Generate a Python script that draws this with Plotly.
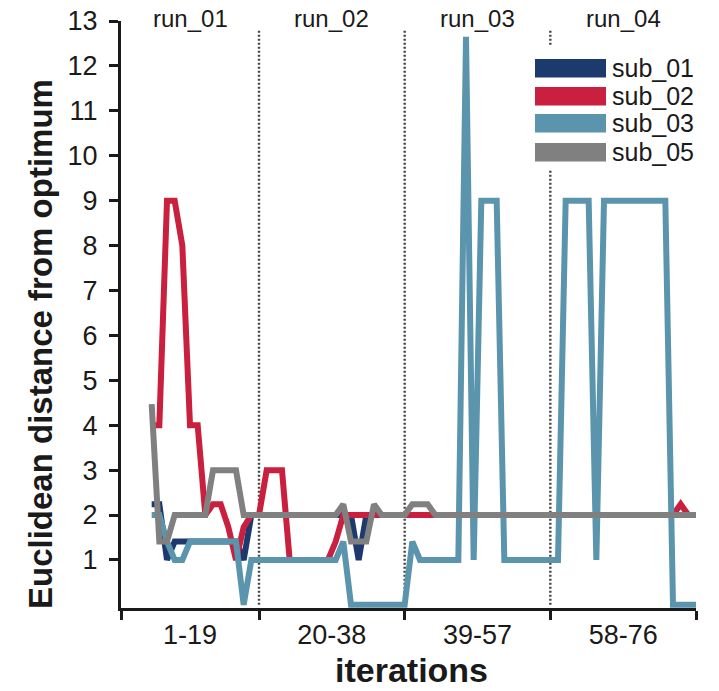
import plotly.graph_objects as go

N = None
iterations = list(range(1, 77))

sub_01 = [N, N, N, N, 2.24, 2.24, 1, 1.41, 1.41, 1.41,
          1.41, 1.41, 1.41, 1.41, 1.41, 1.41, 1, 2, 2, 2,
          2, 2, 2, 2, 2, 2, 2, 2, 2, 2,
          2, 1, 2, 2, 2, 2, 2, 2, 2, 2,
          2, 2, 2, 2, 2, 2, 2, 2, 2, 2,
          2, 2, 2, 2, 2, 2, 2, 2, 2, 2,
          2, 2, 2, 2, 2, 2, 2, 2, 2, 2,
          2, 2, 2, 2, 2, 2]

sub_02 = [N, N, N, N, 4, 4, 9, 9, 8, 4,
          4, 2, 2.24, 2.24, 1.73, 1, 1.73, 2, 2, 3,
          3, 3, 1, 1, 1, 1, 1, 1, 1.41, 2,
          2, 2, 2, 2, 2, 2, 2, 2, 2, 2,
          2, 2, 2, 2, 2, 2, 2, 2, 2, 2,
          2, 2, 2, 2, 2, 2, 2, 2, 2, 2,
          2, 2, 2, 2, 2, 2, 2, 2, 2, 2,
          2, 2, 2, 2.24, 2, 2]

sub_03 = [N, N, N, N, 2, 2, 1.41, 1, 1, 1.41,
          1.41, 1.41, 1.41, 1.41, 1.41, 1.41, 0, 1, 1, 1,
          1, 1, 1, 1, 1, 1, 1, 1, 1, 1.41,
          0, 0, 0, 0, 0, 0, 0, 0, 1.41, 1,
          1, 1, 1, 1, 1, 12.65, 1, 9, 9, 9,
          1, 1, 1, 1, 1, 1, 1, 1, 9, 9,
          9, 9, 1, 9, 9, 9, 9, 9, 9, 9,
          9, 9, 0, 0, 0, 0]

sub_05 = [N, N, N, N, 4.47, 1.41, 1.41, 2, 2, 2,
          2, 2, 3, 3, 3, 3, 2, 2, 2, 2,
          2, 2, 2, 2, 2, 2, 2, 2, 2, 2.24,
          1.41, 1.41, 1.41, 2.24, 2, 2, 2, 2, 2.24, 2.24,
          2.24, 2, 2, 2, 2, 2, 2, 2, 2, 2,
          2, 2, 2, 2, 2, 2, 2, 2, 2, 2,
          2, 2, 2, 2, 2, 2, 2, 2, 2, 2,
          2, 2, 2, 2, 2, 2]

series_names = ["sub_01", "sub_02", "sub_03", "sub_05"]
series_values = [sub_01, sub_02, sub_03, sub_05]
colors = ["#1C3A6E", "#C8203E", "#5B95AD", "#808080"]

run_labels = ["run_01", "run_02", "run_03", "run_04"]
run_edges = [1, 19, 38, 57, 76]
iter_labels = ["1-19", "20-38", "39-57", "58-76"]
y_ticks = list(range(1, 14))

FONT = "Liberation Sans, Arial, Helvetica, sans-serif"
INK = "#1a1a1a"

# figure geometry (page has an 8px body margin)
OFF = 8
W, H = 719 - OFF, 691 - OFF
L, T, R, B = 113, 13, 23, 83
pw, ph = W - L - R, H - T - B


def px2x(px):  # page pixel -> paper x
    return (px - OFF - L) / pw


def py2y(py):  # page pixel -> paper y
    return (H - B - (py - OFF)) / ph


fig = go.Figure()
for name, vals, col in zip(series_names, series_values, colors):
    fig.add_trace(go.Scatter(x=iterations, y=vals, mode="lines", name=name,
                             line=dict(color=col, width=6), showlegend=False,
                             connectgaps=False))

# dummy trace on overlay axis so the label axis is drawn
fig.add_trace(go.Scatter(x=[None], y=[None], xaxis="x2", yaxis="y",
                         showlegend=False, hoverinfo="skip"))

# run separators
for b in run_edges[1:-1]:
    fig.add_shape(type="line", xref="x", yref="y", x0=b, x1=b, y0=0, y1=12.8,
                  line=dict(color="#444444", width=2.4, dash="2px,2px"), layer="below")

centers = [(run_edges[k] + run_edges[k + 1]) / 2 for k in range(4)]

# run labels on top
for c, lab in zip(centers, run_labels):
    fig.add_annotation(x=c, xref="x", y=1, yref="paper", yanchor="middle", yshift=3,
                       text=lab, showarrow=False,
                       font=dict(family=FONT, size=24, color=INK))

# legend (drawn manually to mimic wide swatches)
fig.add_shape(type="rect", xref="paper", yref="paper", x0=px2x(528), x1=px2x(719),
              y0=py2y(170), y1=py2y(46), fillcolor="white", line=dict(width=0), layer="above")
leg_tops = [59, 87, 114, 143]
for top, name, col in zip(leg_tops, series_names, colors):
    fig.add_shape(type="rect", xref="paper", yref="paper", x0=px2x(535), x1=px2x(606),
                  y0=py2y(top + 18.5), y1=py2y(top), fillcolor=col, line=dict(width=0),
                  layer="above")
    fig.add_annotation(x=px2x(610), xref="paper", y=py2y(top + 9), yref="paper",
                       xanchor="left", yanchor="middle", text=name,
                       showarrow=False, font=dict(family=FONT, size=25, color=INK))

# axis titles
fig.add_annotation(x=px2x(40), xref="paper", y=py2y(344), yref="paper",
                   xanchor="center", yanchor="middle", textangle=-90,
                   text="<b>Euclidean distance from optimum</b>", showarrow=False,
                   font=dict(family=FONT, size=33, color=INK))
fig.add_annotation(x=px2x(411), xref="paper", y=py2y(670), yref="paper",
                   xanchor="center", yanchor="middle", height=30,
                   text="<b>iterations</b>", showarrow=False,
                   font=dict(family=FONT, size=34, color=INK))

fig.update_layout(
    width=W, height=H,
    margin=dict(l=L, r=R, t=T, b=B, autoexpand=False),
    paper_bgcolor="white", plot_bgcolor="white",
    font=dict(family=FONT, color=INK),
    xaxis=dict(range=[1, 76], tickvals=run_edges, ticktext=[""] * 5,
               ticks="outside", ticklen=9, tickwidth=3, tickcolor=INK,
               showline=True, linewidth=3, linecolor=INK, showgrid=False,
               zeroline=False, layer="below traces", fixedrange=True),
    xaxis2=dict(range=[1, 76], overlaying="x", side="bottom", anchor="y",
                tickvals=centers, ticktext=iter_labels, ticks="outside",
                ticklen=3, tickcolor="rgba(0,0,0,0)", showline=False,
                showgrid=False, zeroline=False,
                tickfont=dict(family=FONT, size=27, color=INK)),
    yaxis=dict(range=[-0.07, 13.001], tickvals=y_ticks, ticks="outside", ticklen=9,
               tickwidth=3, tickcolor=INK, showline=True, linewidth=3,
               linecolor=INK, showgrid=False, zeroline=False,
               layer="below traces", ticklabeloverflow="allow",
               ticklabelstandoff=6,
               tickfont=dict(family=FONT, size=27, color=INK)),
)

fig.write_html("out.html")
